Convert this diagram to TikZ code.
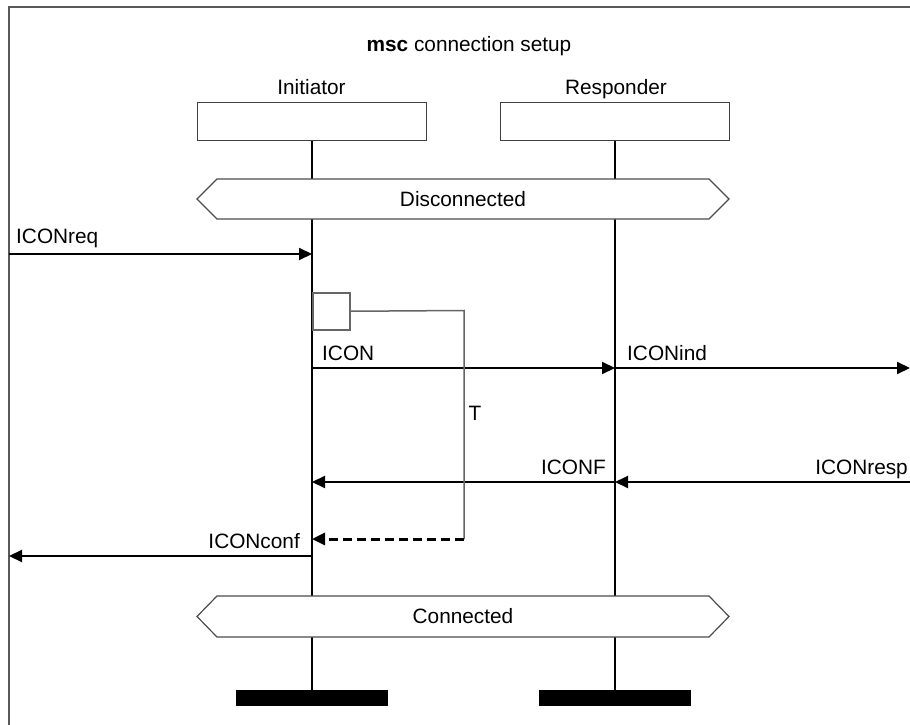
\documentclass[tikz,border=0pt]{standalone}
\usepackage{fontspec}
\setmainfont{Liberation Sans}
\usetikzlibrary{arrows.meta}
\tikzset{
  framestyle/.style={draw=black!65, line width=2pt},
  inst/.style={draw=black!75, line width=1.5pt, minimum width=229pt, minimum height=38pt, inner sep=0pt},
  life/.style={line width=2pt},
  msg/.style={line width=2pt, -{Triangle[length=13pt,width=12pt]}},
  lbl/.style={inner sep=0pt, font=\fontsize{20.8}{24}\selectfont},
  cond/.style={draw=black!70, line width=1.2pt, fill=white},
  timerline/.style={draw=black!60, line width=1.5pt},
  tout/.style={line width=3pt, dash pattern=on 9pt off 5pt, -{Triangle[length=13pt,width=12pt]}},
  stopbar/.style={fill=black, minimum width=152pt, minimum height=16pt, inner sep=0pt}
}
\begin{document}
\begin{tikzpicture}[x=1pt,y=-1pt]
\useasboundingbox (0,0) rectangle (910,725);
\clip (0,0) rectangle (910,725);
% frame
\draw[framestyle] (9,740) -- (9,7) -- (930,7);
% title
\node[lbl, anchor=base] (title) at (469,52) {\textbf{msc} connection setup};
% instance heads
\node[lbl, anchor=base] (ininame) at (311.5,95) {Initiator};
\node[lbl, anchor=base] (resname) at (616,95) {Responder};
\node[inst] (ini) at (312,121.5) {};
\node[inst] (res) at (615,121.5) {};
% conditions
\coordinate (dL) at (197,199); \coordinate (dR) at (729,199);
\coordinate (cL) at (197,616.5); \coordinate (cR) at (729,616.5);
% lifeline coordinates
\coordinate (i1) at (312,179); \coordinate (i2) at (312,219);
\coordinate (i3) at (312,596); \coordinate (i4) at (312,637);
\coordinate (r1) at (615,179); \coordinate (r2) at (615,219);
\coordinate (r3) at (615,596); \coordinate (r4) at (615,637);
% stops
\node[stopbar] (istop) at (312,698) {};
\node[stopbar] (rstop) at (615,698) {};
% lifelines
\draw[life] (ini.south) -- (i1);
\draw[life] (res.south) -- (r1);
\draw[life] (i2) -- (i3);
\draw[life] (r2) -- (r3);
\draw[life] (i4) -- (istop.north);
\draw[life] (r4) -- (rstop.north);
% condition hexagons
\draw[cond] (dL) -- (217,179) -- (709,179) -- (dR) -- (709,219) -- (217,219) -- cycle;
\node[lbl] (disc) at (463,199) {Disconnected};
\draw[cond] (cL) -- (217,596) -- (709,596) -- (cR) -- (709,637) -- (217,637) -- cycle;
\node[lbl] (conn) at (463,616.5) {Connected};
% environment points
\coordinate (envL1) at (9,254);   \coordinate (iR1) at (312,254);
\coordinate (iR2) at (312,368);   \coordinate (rR2) at (615,368);
\coordinate (envR2) at (910,368);
\coordinate (envR3) at (910,482); \coordinate (rR3) at (615,482);
\coordinate (iR3) at (312,482);
\coordinate (iR5) at (312,556);   \coordinate (envL5) at (9,556);
% messages
\draw[msg] (envL1) -- (iR1);
\node[lbl, anchor=base west] (lreq) at (16,243) {ICONreq};
\draw[msg] (iR2) -- (rR2);
\node[lbl, anchor=base west] (licon) at (322,360) {ICON};
\draw[msg] (rR2) -- (envR2);
\node[lbl, anchor=base west] (lind) at (627,360) {ICONind};
\draw[msg] (envR3) -- (rR3);
\node[lbl, anchor=base east] (lresp) at (908,474) {ICONresp};
\draw[msg] (rR3) -- (iR3);
\node[lbl, anchor=base east] (lconf) at (606,474) {ICONF};
\draw[msg] (iR5) -- (envL5);
\node[lbl, anchor=base east] (lcconf) at (300,548) {ICONconf};
% timer
\node[timerline, minimum width=37pt, minimum height=37pt, inner sep=0pt, anchor=north west] (tbox) at (312,292) {};
\coordinate (t1) at (464,310.5);
\coordinate (t2) at (464,539);
\coordinate (t3) at (312,539);
\draw[timerline] (tbox.east) -- (t1) -- (t2);
\draw[tout] (t2) -- (t3);
\node[lbl] (tl) at (475,413) {T};
\end{tikzpicture}
\end{document}
